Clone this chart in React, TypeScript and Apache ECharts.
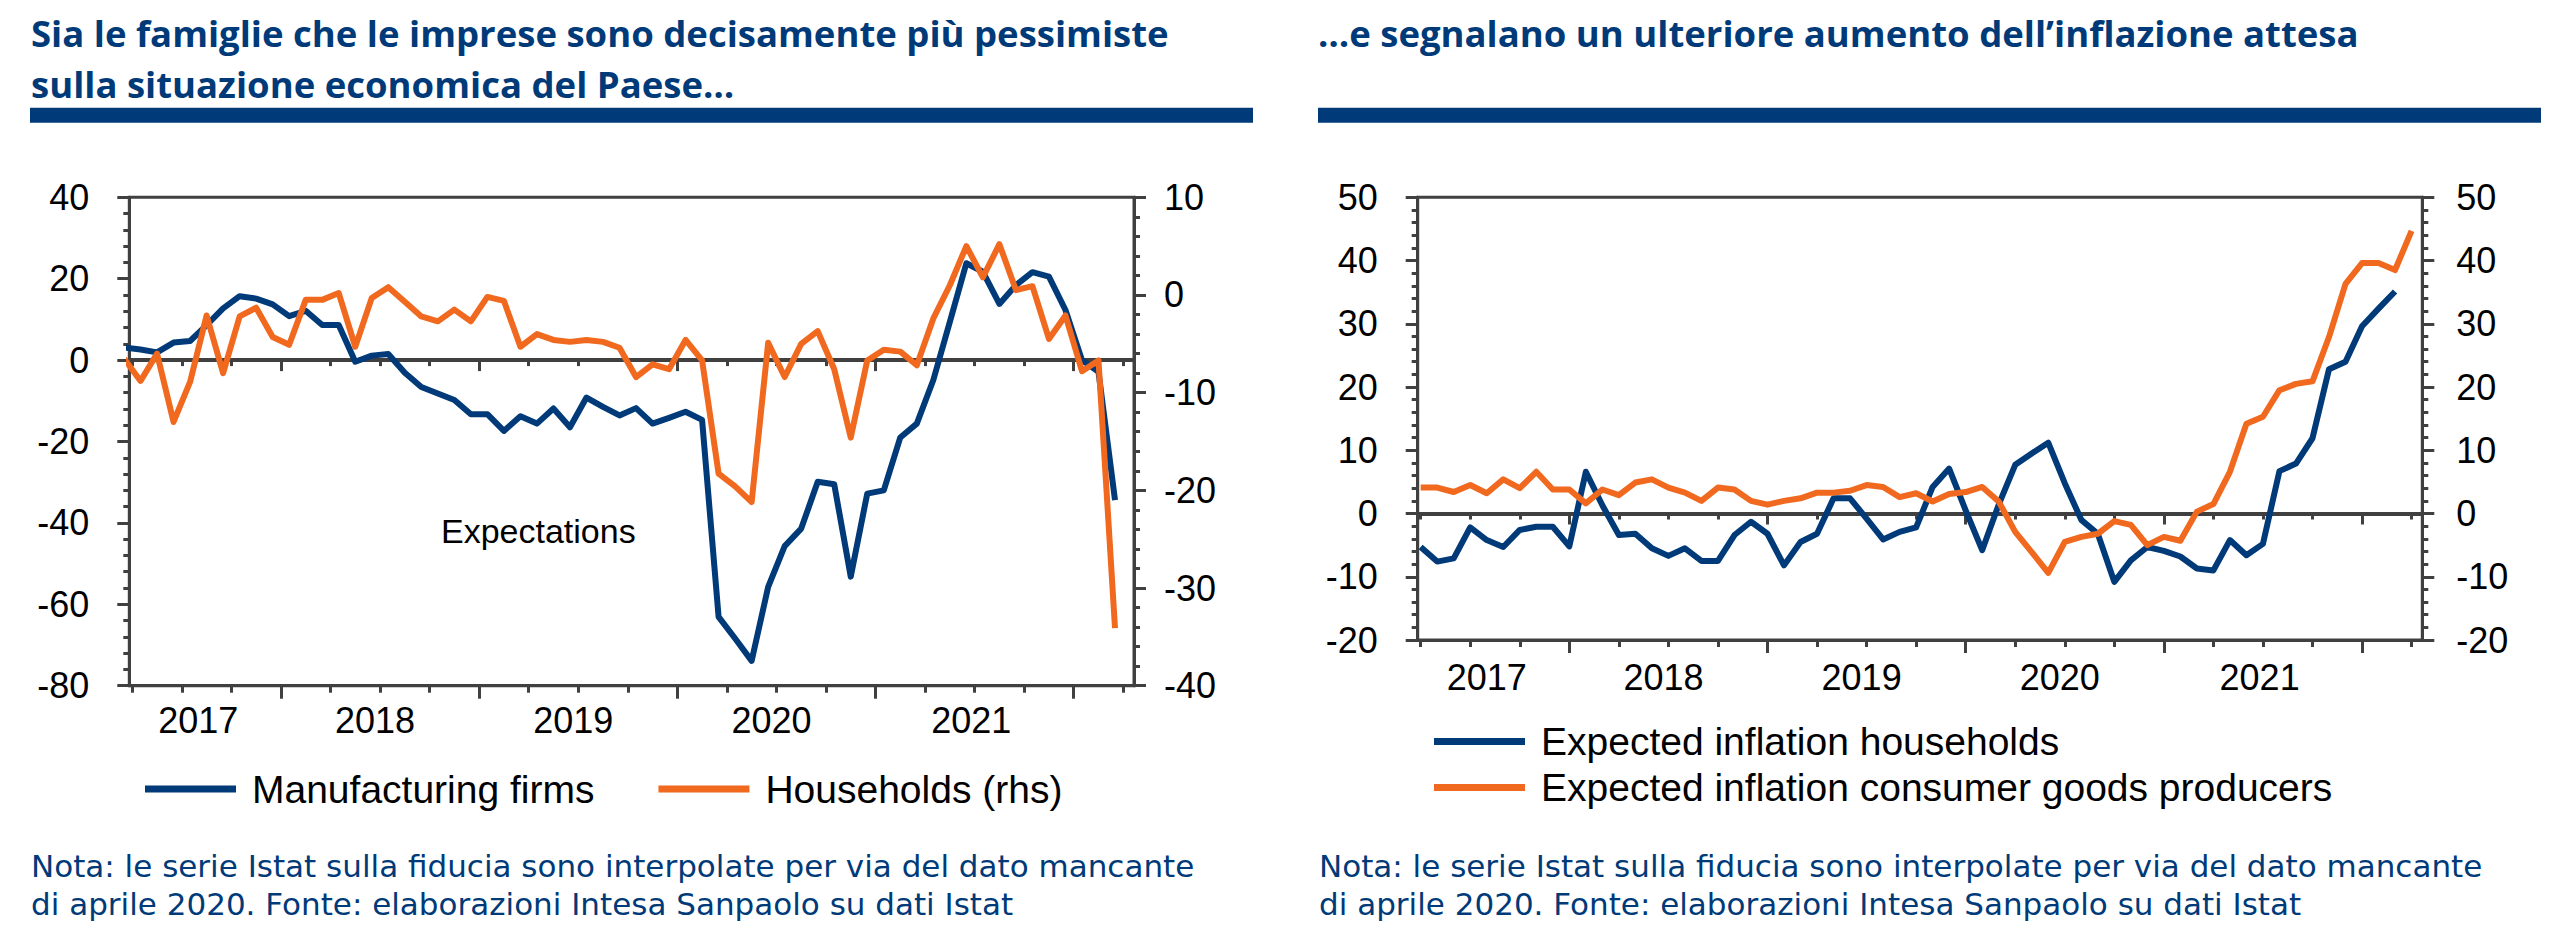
import React, { useEffect, useRef } from "react";
import * as echarts from "echarts";

// ---------- DATA ----------
// Left chart: monthly observations (plotted mid-month)
const confidenceMonths = [
  "2017-03","2017-04","2017-05","2017-06","2017-07","2017-08","2017-09","2017-10","2017-11","2017-12",
  "2018-01","2018-02","2018-03","2018-04","2018-05","2018-06","2018-07","2018-08","2018-09","2018-10","2018-11","2018-12",
  "2019-01","2019-02","2019-03","2019-04","2019-05","2019-06","2019-07","2019-08","2019-09","2019-10","2019-11","2019-12",
  "2020-01","2020-02","2020-03","2020-04","2020-05","2020-06","2020-07","2020-08","2020-09","2020-10","2020-11","2020-12",
  "2021-01","2021-02","2021-03","2021-04","2021-05","2021-06","2021-07","2021-08","2021-09","2021-10","2021-11","2021-12",
  "2022-01","2022-02","2022-03"
];
const manufacturingFirms = [
  3.1, 2.6, 1.9, 4.3, 4.7, 8.6, 12.7, 15.7, 15.1, 13.7,
  10.8, 12.1, 8.6, 8.6, -0.4, 1.1, 1.5, -3.1, -6.6, -8.2, -9.8, -13.3,
  -13.3, -17.4, -13.8, -15.6, -11.9, -16.5, -9.2, -11.5, -13.6, -11.8, -15.6, -14.2,
  -12.7, -14.7, -63.1, -68.4, -73.9, -55.7, -45.7, -41.4, -29.9, -30.5, -53.2, -32.8,
  -32.0, -19.0, -15.6, -4.9, 9.4, 23.8, 21.7, 13.8, 18.4, 21.6, 20.5, 12.3,
  0.0, -2.9, -34.4
];
const householdsRhs = [
  -6.5, -8.8, -6.0, -13.0, -8.9, -2.1, -8.0, -2.2, -1.3, -4.3,
  -5.1, -0.5, -0.5, 0.2, -5.3, -0.3, 0.8, -0.7, -2.2, -2.7, -1.5, -2.7,
  -0.2, -0.6, -5.3, -4.0, -4.6, -4.8, -4.6, -4.8, -5.4, -8.4, -7.1, -7.6,
  -4.6, -6.7, -18.3, -19.6, -21.2, -4.9, -8.4, -5.0, -3.7, -7.6, -14.6, -6.7,
  -5.6, -5.8, -7.2, -2.4, 1.0, 5.0, 1.8, 5.2, 0.5, 0.9, -4.5, -2.1,
  -7.8, -6.7, -34.1
];

// Right chart: monthly observations (plotted at month start)
const inflationMonths = [
  "2017-04","2017-05","2017-06","2017-07","2017-08","2017-09","2017-10","2017-11","2017-12",
  "2018-01","2018-02","2018-03","2018-04","2018-05","2018-06","2018-07","2018-08","2018-09","2018-10","2018-11","2018-12",
  "2019-01","2019-02","2019-03","2019-04","2019-05","2019-06","2019-07","2019-08","2019-09","2019-10","2019-11","2019-12",
  "2020-01","2020-02","2020-03","2020-04","2020-05","2020-06","2020-07","2020-08","2020-09","2020-10","2020-11","2020-12",
  "2021-01","2021-02","2021-03","2021-04","2021-05","2021-06","2021-07","2021-08","2021-09","2021-10","2021-11","2021-12",
  "2022-01","2022-02","2022-03","2022-04"
];
const expectedInflationHouseholds = [
  -5.3, -7.6, -7.1, -2.2, -4.2, -5.3, -2.6, -2.1, -2.1,
  -5.2, 6.6, 1.3, -3.4, -3.2, -5.5, -6.7, -5.5, -7.5, -7.5, -3.4, -1.3,
  -3.2, -8.2, -4.5, -3.2, 2.4, 2.4, -0.8, -4.1, -2.9, -2.2, 4.2, 7.1,
  0.5, -5.8, 1.4, 7.7, 9.5, 11.2, 4.8, -1.0, -3.2, -10.8, -7.4, -5.3,
  -5.9, -6.8, -8.7, -9.0, -4.2, -6.6, -4.8, 6.7, 7.9, 11.9, 22.8, 24.0,
  29.6, 32.4, 35.1
];
const expectedInflationProducers = [
  4.1, 4.1, 3.4, 4.5, 3.2, 5.4, 4.0, 6.6, 3.8,
  3.8, 1.6, 3.8, 2.9, 4.9, 5.4, 4.1, 3.3, 2.0, 4.1, 3.8, 2.0,
  1.4, 2.0, 2.4, 3.3, 3.3, 3.6, 4.5, 4.2, 2.6, 3.2, 1.9, 3.1,
  3.4, 4.2, 1.9, -2.9, -6.1, -9.4, -4.5, -3.7, -3.2, -1.2, -1.8, -5.0,
  -3.7, -4.3, 0.3, 1.5, 6.6, 14.2, 15.3, 19.5, 20.5, 20.9, 27.9, 36.3,
  39.6, 39.6, 38.5, 44.7
];

const yearLabels = ["2017", "2018", "2019", "2020", "2021"];

// ---------- STYLE ----------
const NAVY = "#003A78";
const ORANGE = "#F0691F";
const AX = "#404040";
const SANS = "'Liberation Sans', Arial, sans-serif";
const TITLE_FONT = "'Open Sans', 'DejaVu Sans', sans-serif";
const NOTE_FONT = "'DejaVu Sans', 'Open Sans', sans-serif";

// month position: months since 2017-01-01
function monthPos(label: string, offset: number) {
  const [y, m] = label.split("-").map(Number);
  return (y - 2017) * 12 + (m - 1) + offset;
}

const X_MIN = 2.82;
const X_MAX = 63.65;
const quarterTicks: number[] = [];
for (let q = 3; q <= 63; q += 3) quarterTicks.push(q);
const yearTicks = [12, 24, 36, 48, 60];
const yearLabelAt = [7.0, 17.7, 29.7, 41.7, 53.8];

function xAxesFor(gridIndex: number, zeroY: number, labelMargin: number) {
  const base: any = {
    type: "value",
    gridIndex,
    min: X_MIN,
    max: X_MAX,
    splitLine: { show: false },
    axisLabel: { show: false },
    axisTick: { show: false },
    axisLine: { show: false, onZero: false },
    axisPointer: { show: false },
  };
  const tick = (vals: number[], len: number) => ({
    show: true,
    customValues: vals,
    length: len,
    inside: false,
    lineStyle: { color: AX, width: 3 },
  });
  return [
    {
      ...base,
      position: "bottom",
      axisLine: { show: true, onZero: false, lineStyle: { color: AX, width: 3 } },
      axisTick: tick(quarterTicks, 7),
    },
    {
      ...base,
      position: "bottom",
      axisLine: { show: false, onZero: false },
      axisTick: tick(yearTicks, 13),
      axisLabel: {
        show: true,
        customValues: yearLabelAt,
        formatter: (v: number) => {
          const i = yearLabelAt.findIndex((p) => Math.abs(p - v) < 0.01);
          return i >= 0 ? yearLabels[i] : "";
        },
        fontSize: 36,
        fontFamily: SANS,
        color: "#000",
        margin: labelMargin,
      },
    },
    {
      ...base,
      position: "bottom",
      axisLine: { show: true, onZero: true, onZeroAxisIndex: zeroY, lineStyle: { color: AX, width: 4 } },
      axisTick: tick(quarterTicks, 6),
    },
    {
      ...base,
      position: "bottom",
      axisLine: { show: false, onZero: true, onZeroAxisIndex: zeroY },
      axisTick: tick(yearTicks, 11),
    },
  ];
}

function yAxis(gridIndex: number, position: string, min: number, max: number, interval: number, margin: number) {
  return {
    type: "value",
    gridIndex,
    position,
    min,
    max,
    interval,
    splitLine: { show: false },
    axisLine: { show: true, onZero: false, lineStyle: { color: AX, width: 3 } },
    axisTick: { show: true, inside: false, length: 12, lineStyle: { color: AX, width: 3 } },
    minorTick: { show: true, splitNumber: 5, length: 6, lineStyle: { color: AX, width: 3 } },
    axisLabel: { fontSize: 36, fontFamily: SANS, color: "#000", margin },
    axisPointer: { show: false },
  };
}

function lineSeries(name: string, color: string, xi: number, yi: number, months: string[], vals: number[], offset: number) {
  return {
    type: "line",
    name,
    xAxisIndex: xi,
    yAxisIndex: yi,
    data: months.map((m, i) => [monthPos(m, offset), vals[i]]),
    symbol: "none",
    showSymbol: false,
    clip: true,
    lineStyle: { color, width: 6, join: "round", cap: "butt" },
    itemStyle: { color },
    emphasis: { disabled: true },
    z: 5,
  };
}

function text(x: number, y: number, t: string, size: number, family: string, color: string, weight = "normal") {
  return {
    type: "text",
    x,
    y,
    silent: true,
    style: {
      text: t,
      fill: color,
      fontSize: size,
      fontFamily: family,
      fontWeight: weight,
      align: "left",
      verticalAlign: "middle",
    },
  };
}

function buildOption(): any {
  const legendText = { fontSize: 39, lineHeight: 39, fontFamily: SANS, color: "#000", padding: [0, 0, 0, 11] };
  return {
    animation: false,
    backgroundColor: "#ffffff",
    grid: [
      { left: 129.3, top: 197.3, width: 1004.7, height: 488.4, show: true, borderColor: AX, borderWidth: 3, backgroundColor: "transparent", containLabel: false, outerBoundsMode: "none" },
      { left: 1417.7, top: 197.3, width: 1004.6, height: 442.7, show: true, borderColor: AX, borderWidth: 3, backgroundColor: "transparent", containLabel: false, outerBoundsMode: "none" },
    ],
    xAxis: [...xAxesFor(0, 0, 17), ...xAxesFor(1, 2, 19)],
    yAxis: [
      yAxis(0, "left", -80, 40, 20, 40),
      yAxis(0, "right", -40, 10, 10, 30),
      yAxis(1, "left", -20, 50, 10, 40),
      yAxis(1, "right", -20, 50, 10, 34),
    ],
    legend: [
      {
        data: ["Manufacturing firms", "Households (rhs)"],
        left: 145,
        top: 769.5,
        orient: "horizontal",
        icon: "rect",
        itemWidth: 91,
        itemHeight: 7,
        itemGap: 64,
        padding: 0,
        selectedMode: false,
        textStyle: legendText,
      },
      {
        data: ["Expected inflation households", "Expected inflation consumer goods producers"],
        left: 1434,
        top: 722,
        orient: "vertical",
        icon: "rect",
        itemWidth: 91,
        itemHeight: 7,
        itemGap: 7,
        padding: 0,
        selectedMode: false,
        textStyle: legendText,
      },
    ],
    series: [
      lineSeries("Manufacturing firms", NAVY, 0, 0, confidenceMonths, manufacturingFirms, 0.5),
      lineSeries("Households (rhs)", ORANGE, 0, 1, confidenceMonths, householdsRhs, 0.5),
      lineSeries("Expected inflation households", NAVY, 4, 2, inflationMonths.slice(0, expectedInflationHouseholds.length), expectedInflationHouseholds, 0),
      lineSeries("Expected inflation consumer goods producers", ORANGE, 4, 3, inflationMonths, expectedInflationProducers, 0),
    ],
    graphic: [
      text(31, 32.5, "Sia le famiglie che le imprese sono decisamente più pessimiste", 36.5, TITLE_FONT, NAVY, "bold"),
      text(31, 84.1, "sulla situazione economica del Paese…", 36.5, TITLE_FONT, NAVY, "bold"),
      text(1318, 32.5, "…e segnalano un ulteriore aumento dell’inflazione attesa", 36.5, TITLE_FONT, NAVY, "bold"),
      { type: "rect", silent: true, shape: { x: 30, y: 107.7, width: 1223, height: 15 }, style: { fill: NAVY } },
      { type: "rect", silent: true, shape: { x: 1318, y: 107.7, width: 1223, height: 15 }, style: { fill: NAVY } },
      text(441, 531.2, "Expectations", 34, SANS, "#000"),
      text(31, 866, "Nota: le serie Istat sulla fiducia sono interpolate per via del dato mancante", 31, NOTE_FONT, NAVY),
      text(31, 904.3, "di aprile 2020. Fonte: elaborazioni Intesa Sanpaolo su dati Istat", 31, NOTE_FONT, NAVY),
      text(1319, 866, "Nota: le serie Istat sulla fiducia sono interpolate per via del dato mancante", 31, NOTE_FONT, NAVY),
      text(1319, 904.3, "di aprile 2020. Fonte: elaborazioni Intesa Sanpaolo su dati Istat", 31, NOTE_FONT, NAVY),
    ],
  };
}

export default function App() {
  const ref = useRef<HTMLDivElement>(null);
  useEffect(() => {
    if (!ref.current) return;
    const chart = echarts.init(ref.current, undefined, { renderer: "svg", width: 2562, height: 940 });
    chart.setOption(buildOption());
    return () => chart.dispose();
  }, []);
  return (
    <div
      ref={ref}
      style={{ position: "fixed", left: 0, top: 0, width: 2562, height: 940, background: "#fff" }}
    />
  );
}
